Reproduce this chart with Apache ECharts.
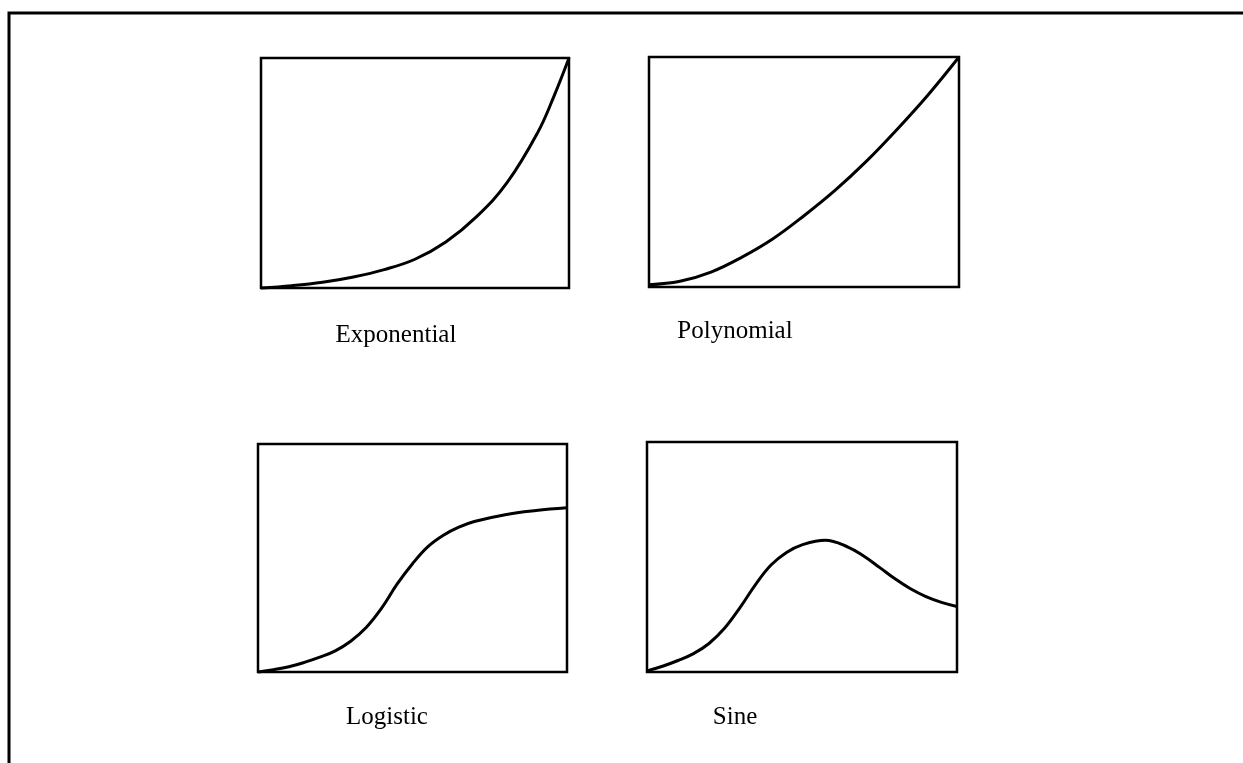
<!DOCTYPE html>
<html>
<head>
<meta charset="utf-8">
<script src="https://cdn.jsdelivr.net/npm/echarts@6/dist/echarts.min.js"></script>
<style>
html,body{margin:0;padding:0;background:#fff;}
#chart{width:1243px;height:763px;}
</style>
</head>
<body>
<div id="chart"></div>
<script>
// Panel titles
const panelNames = ['Exponential', 'Polynomial', 'Logistic', 'Sine'];

// x positions (fraction of panel width) and heights (percent of panel height) for each curve
const expX  = [0, 0.1, 0.2, 0.3, 0.4, 0.5, 0.6, 0.7, 0.8, 0.9, 0.95, 1.0];
const expY  = [0, 1, 2.5, 4.8, 8, 12.5, 20, 31, 46, 68, 83, 100];

const polyX = [0, 0.1, 0.2, 0.3, 0.4, 0.5, 0.6, 0.7, 0.8, 0.9, 1.0];
const polyY = [1, 2.5, 6.5, 13, 21, 31, 42, 54.5, 68.5, 83.5, 100];

const logX  = [0, 0.05, 0.1, 0.15, 0.2, 0.25, 0.3, 0.35, 0.4, 0.45, 0.5, 0.55, 0.6, 0.65, 0.7, 0.8, 0.9, 1.0];
const logY  = [0, 1, 2.3, 4.2, 6.5, 9.3, 13.5, 19.5, 28, 38.5, 47.5, 55, 60, 63.5, 66, 69, 70.8, 72];

const sineX = [0, 0.05, 0.1, 0.15, 0.2, 0.25, 0.3, 0.35, 0.4, 0.45, 0.5, 0.575, 0.65, 0.7, 0.75, 0.8, 0.85, 0.9, 0.95, 1.0];
const sineY = [0.5, 2.5, 5, 8, 12.4, 19, 28, 38, 46.5, 52, 55.3, 57.3, 54.2, 50.3, 45.5, 40.5, 36.2, 32.8, 30.3, 28.5];

const curves = [[expX, expY], [polyX, polyY], [logX, logY], [sineX, sineY]];

// Layout
const grids = [
  {left: 261, top: 58, width: 308, height: 230},
  {left: 649, top: 57, width: 310, height: 230},
  {left: 258, top: 444, width: 309, height: 228},
  {left: 647, top: 442, width: 310, height: 230}
];
const labelPos = [[396, 335], [735, 331], [387, 717], [735, 717]];

const chart = echarts.init(document.getElementById('chart'), null, {renderer: 'canvas'});

const option = {
  backgroundColor: '#fff',
  animation: false,
  grid: grids.map(g => Object.assign({show: true, borderColor: '#000', borderWidth: 2.5, backgroundColor: 'transparent', containLabel: false}, g)),
  xAxis: grids.map((g, i) => ({type: 'value', gridIndex: i, min: 0, max: 1, show: false})),
  yAxis: grids.map((g, i) => ({type: 'value', gridIndex: i, min: 0, max: 100, show: false})),
  series: curves.map((c, i) => ({
    type: 'line',
    xAxisIndex: i,
    yAxisIndex: i,
    smooth: 0.4,
    symbol: 'none',
    clip: false,
    lineStyle: {color: '#000', width: 3},
    data: c[0].map((x, j) => [x, c[1][j]])
  })),
  graphic: [
    {
      type: 'rect',
      shape: {x: 9, y: 13, width: 1400, height: 900},
      style: {fill: 'transparent', stroke: '#000', lineWidth: 3},
      silent: true
    }
  ].concat(panelNames.map((n, i) => ({
    type: 'text',
    x: labelPos[i][0],
    y: labelPos[i][1],
    style: {
      text: n,
      fill: '#000',
      font: '25px "Liberation Serif", "Times New Roman", serif',
      textAlign: 'center',
      textVerticalAlign: 'middle'
    }
  })))
};

chart.setOption(option);
</script>
</body>
</html>
